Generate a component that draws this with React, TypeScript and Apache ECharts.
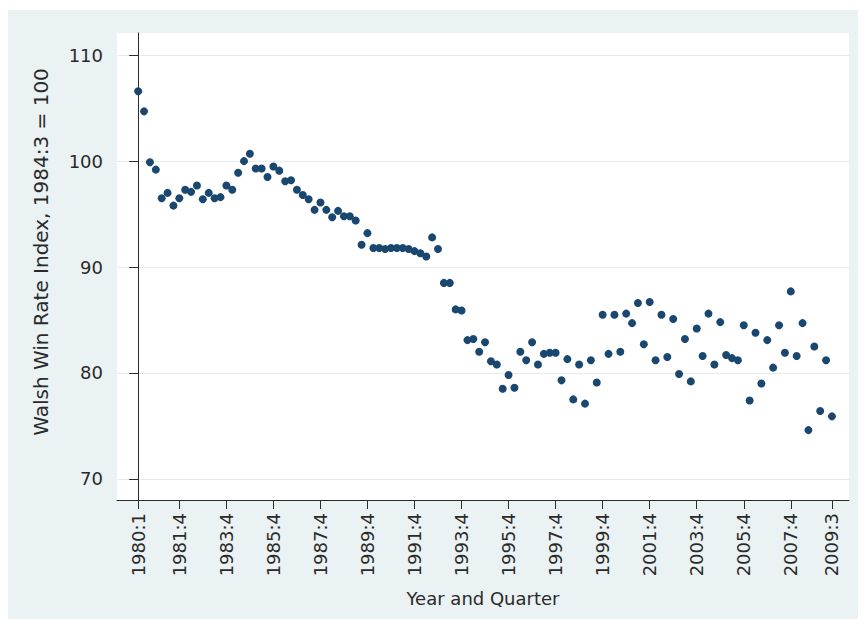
import React, { useEffect, useRef } from "react";
import * as echarts from "echarts";

// Quarter labels, 1980:1 through 2009:3
const quarterLabels: string[] = [];
for (let year = 1980; year <= 2009; year++) {
  for (let q = 1; q <= 4; q++) quarterLabels.push(`${year}:${q}`);
}
const periods = quarterLabels.slice(0, 119);

// Walsh win rate index (1984:3 = 100), one value per quarter
const winRateIndex = [
  106.6, 104.7, 99.9, 99.2, 96.5, 97.0, 95.8, 96.5, 97.3, 97.1,
  97.7, 96.4, 97.0, 96.5, 96.6, 97.7, 97.3, 98.9, 100.0, 100.7,
  99.3, 99.3, 98.5, 99.5, 99.1, 98.1, 98.2, 97.3, 96.8, 96.4,
  95.4, 96.1, 95.4, 94.7, 95.3, 94.8, 94.8, 94.4, 92.1, 93.2,
  91.8, 91.8, 91.7, 91.8, 91.8, 91.8, 91.7, 91.5, 91.3, 91.0,
  92.8, 91.7, 88.5, 88.5, 86.0, 85.9, 83.1, 83.2, 82.0, 82.9,
  81.1, 80.8, 78.5, 79.8, 78.6, 82.0, 81.2, 82.9, 80.8, 81.8,
  81.9, 81.9, 79.3, 81.3, 77.5, 80.8, 77.1, 81.2, 79.1, 85.5,
  81.8, 85.5, 82.0, 85.6, 84.7, 86.6, 82.7, 86.7, 81.2, 85.5,
  81.5, 85.1, 79.9, 83.2, 79.2, 84.2, 81.6, 85.6, 80.8, 84.8,
  81.7, 81.4, 81.2, 84.5, 77.4, 83.8, 79.0, 83.1, 80.5, 84.5,
  81.9, 87.7, 81.6, 84.7, 74.6, 82.5, 76.4, 81.2, 75.9,
];

// Labelled quarters on the horizontal axis
const xTickLabels = [
  "1980:1", "1981:4", "1983:4", "1985:4", "1987:4", "1989:4",
  "1991:4", "1993:4", "1995:4", "1997:4", "1999:4", "2001:4",
  "2003:4", "2005:4", "2007:4", "2009:3",
];

const yTicks = [70, 80, 90, 100, 110];

const FONT = "DejaVu Sans";
const TEXT = "#2a2a2a";
const AXIS = "#2b2b2b";

export default function App() {
  const ref = useRef<HTMLDivElement>(null);

  useEffect(() => {
    if (!ref.current) return;
    const chart = echarts.init(ref.current, undefined, { renderer: "svg" });
    const xTickIdx = xTickLabels.map((l) => periods.indexOf(l));
    const points = winRateIndex.map((v, i) => [i, v]);

    chart.setOption({
      animation: false,
      backgroundColor: "transparent",
      grid: {
        left: 109,
        right: 10,
        top: 23,
        bottom: 121,
        show: true,
        backgroundColor: "#ffffff",
        borderWidth: 0,
      },
      xAxis: {
        type: "value",
        min: -3.6,
        max: 120.9,
        name: "Year and Quarter",
        nameLocation: "middle",
        nameGap: 89,
        nameTextStyle: { fontFamily: FONT, fontSize: 18, color: TEXT },
        axisLine: { show: true, onZero: false, lineStyle: { color: AXIS, width: 1 } },
        axisTick: { show: true, length: 9, customValues: xTickIdx, lineStyle: { color: AXIS } },
        axisLabel: {
          customValues: xTickIdx,
          rotate: 90,
          margin: 13,
          fontFamily: FONT,
          fontSize: 18,
          color: TEXT,
          formatter: (v: number) => periods[Math.round(v)],
        },
        splitLine: { show: false },
      },
      yAxis: {
        type: "value",
        min: 68,
        max: 112.1,
        axisLine: { show: true, lineStyle: { color: AXIS, width: 1 } },
        axisTick: { show: true, length: 9, customValues: yTicks, lineStyle: { color: AXIS } },
        axisLabel: {
          customValues: yTicks,
          margin: 14,
          fontFamily: FONT,
          fontSize: 18,
          color: TEXT,
        },
        splitLine: { show: true, lineStyle: { color: "#e4ecee", width: 1 } },
      },
      graphic: [
        {
          type: "text",
          x: 33,
          y: 242,
          rotation: Math.PI / 2,
          style: {
            text: "Walsh Win Rate Index, 1984:3 = 100",
            fontFamily: FONT,
            fontSize: 20,
            fill: TEXT,
            align: "center",
            verticalAlign: "middle",
          },
        },
      ],
      series: [
        {
          type: "scatter",
          data: points,
          symbol: "circle",
          symbolSize: 8,
          itemStyle: { color: "#1a476f", opacity: 1 },
        },
      ],
    });

    return () => chart.dispose();
  }, []);

  return (
    <div
      ref={ref}
      style={{
        position: "relative",
        top: 2,
        width: 851,
        height: 611,
        background: "#eaf2f3",
      }}
    />
  );
}
